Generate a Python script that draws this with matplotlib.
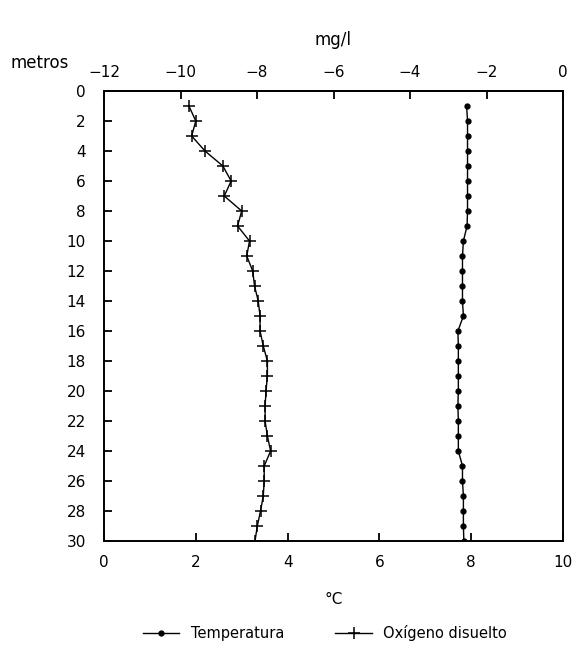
import numpy as np
import matplotlib
matplotlib.use("Agg")
import matplotlib.pyplot as plt

# Perfil vertical: profundidad (m)
profundidad = [1, 2, 3, 4, 5, 6, 7, 8, 9, 10, 11, 12, 13, 14, 15,
               16, 17, 18, 19, 20, 21, 22, 23, 24, 25, 26, 27, 28, 29, 30]

# Temperatura (°C)
temperatura = [7.90, 7.92, 7.92, 7.92, 7.92, 7.92, 7.92, 7.92, 7.91, 7.83,
               7.81, 7.81, 7.81, 7.81, 7.83, 7.71, 7.72, 7.72, 7.72, 7.72,
               7.71, 7.72, 7.72, 7.72, 7.81, 7.81, 7.83, 7.83, 7.83, 7.84]

oxigeno = [1.85, 2.00, 1.91, 2.20, 2.59, 2.77, 2.62, 3.00, 2.91, 3.17,
           3.11, 3.24, 3.28, 3.36, 3.40, 3.40, 3.47, 3.56, 3.56, 3.53,
           3.51, 3.51, 3.56, 3.63, 3.49, 3.49, 3.47, 3.41, 3.34, 3.29]

ticks_y = list(range(0, 31, 2))
ticks_x = [0, 2, 4, 6, 8, 10]
ticks_top = [-12, -10, -8, -6, -4, -2, 0]

plt.rcParams['font.family'] = ['DejaVu Sans']
plt.rcParams['font.size'] = 11

fig = plt.figure(figsize=(5.77, 6.58), dpi=100)
ax = fig.add_axes([104/577, 1 - 541/658, 459/577, 450/658])

ax.plot(temperatura, profundidad, color='black', linewidth=1.0,
        marker='o', markersize=3.5, label='Temperatura')
ax.plot(oxigeno, profundidad, color='black', linewidth=1.0,
        marker='+', markersize=8, markeredgewidth=1.1, label='Oxígeno disuelto')

ax.set_xlim(0, 10)
ax.set_ylim(30, 0)
ax.set_xticks(ticks_x)
ax.set_yticks(ticks_y)
for s in ax.spines.values():
    s.set_linewidth(1.4)
ax.tick_params(axis='y', direction='in', length=6, width=1.3, pad=13, right=False)
ax.tick_params(axis='x', direction='in', length=6, width=1.3, pad=10)
ax.set_xlabel('°C', labelpad=16)

# escala superior en mg/l
top = ax.secondary_xaxis('top', functions=(lambda x: -12 + 1.2 * x,
                                           lambda t: (t + 12) / 1.2))
top.set_xticks(ticks_top)
top.set_xticklabels(['−12', '−10', '−8', '−6', '−4', '−2', '0'])
top.tick_params(direction='in', length=6, width=1.3, pad=8)
top.spines['top'].set_linewidth(1.4)
fig.text(333/577, 1 - 40/658, 'mg/l', ha='center', va='center', fontsize=12)
fig.text(10/577, 1 - 63/658, 'metros', ha='left', va='center', fontsize=12)

fig.legend(loc='center', bbox_to_anchor=(325/577, 1 - 633/658), ncol=2,
           frameon=False, handlelength=2.5, handletextpad=0.8,
           columnspacing=3.5, fontsize=10.5)

plt.savefig('out.png', dpi=100)
